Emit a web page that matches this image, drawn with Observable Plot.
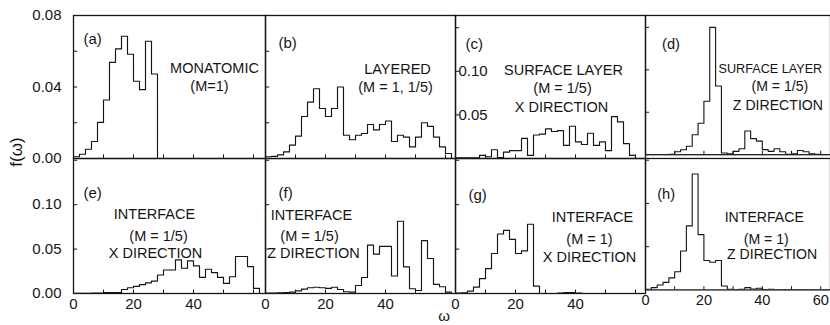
<!DOCTYPE html>
<html><head><meta charset="utf-8">
<script src="https://cdn.jsdelivr.net/npm/d3@7"></script>
<script src="https://cdn.jsdelivr.net/npm/@observablehq/plot@0.6"></script>
<style>
html,body{margin:0;padding:0;background:#fff;overflow:hidden;}
#chart{position:relative;width:830px;height:325px;overflow:hidden;font-family:"Liberation Sans",Arial,sans-serif;color:#111;background:#fff;}
.panel{position:absolute;}
.lbl{position:absolute;white-space:nowrap;line-height:1;}
</style></head><body><div id="chart"></div>
<script>
// histogram bin width (in omega units); values are f(omega) per bin starting at 0
const binWidth = 2;
const fA = [0.001, 0.0024, 0.0052, 0.0095, 0.0202, 0.0327, 0.0538, 0.0613, 0.0684, 0.0583, 0.0432, 0.0385, 0.0656, 0.0473, 0, 0, 0, 0, 0, 0, 0, 0, 0, 0, 0, 0, 0, 0, 0, 0, 0, 0];
const fB = [0.001, 0.0012, 0.002, 0.0037, 0.0075, 0.0125, 0.0235, 0.0315, 0.039, 0.028, 0.0235, 0.028, 0.040, 0.013, 0.0105, 0.013, 0.014, 0.019, 0.016, 0.019, 0.021, 0.0095, 0.013, 0.012, 0.0065, 0.012, 0.020, 0.018, 0.012, 0.0065, 0.0028, 0];
const fC = [0.0007, 0.0007, 0.0007, 0.0007, 0.0035, 0.002, 0.010, 0.001, 0.0073, 0.009, 0.009, 0.023, 0.0035, 0.027, 0.028, 0.034, 0.031, 0.032, 0.015, 0.037, 0.019, 0.016, 0.029, 0.015, 0.019, 0.009, 0.048, 0.042, 0.017, 0.0035, 0, 0];
const fD = [0, 0, 0, 0, 0.0005, 0.0035, 0.0058, 0.010, 0.0235, 0.037, 0.063, 0.150, 0.081, 0.002, 0.001, 0.004, 0.007, 0.028, 0.019, 0.016, 0.006, 0.004, 0.007, 0.0035, 0.0005, 0.001, 0.005, 0.0035, 0.001, 0.0005, 0, 0];
const fE = [0.0003, 0.0003, 0.0003, 0.0005, 0.0005, 0.001, 0.001, 0.001, 0.0045, 0.0065, 0.008, 0.010, 0.012, 0.014, 0.0208, 0.0265, 0.0265, 0.0379, 0.0284, 0.0367, 0.0311, 0.0182, 0.0273, 0.0235, 0.0182, 0.0114, 0.0189, 0.0417, 0.0417, 0.0303, 0.0057, 0];
const fF = [0.0005, 0.0005, 0.0007, 0.001, 0.0015, 0.003, 0.005, 0.0065, 0.007, 0.0065, 0.0057, 0.007, 0.0045, 0.002, 0.0015, 0.009, 0.018, 0.0545, 0.0443, 0.053, 0.053, 0.0197, 0.0814, 0.030, 0.0053, 0.0034, 0.0595, 0.0394, 0.0102, 0.0076, 0.0015, 0];
const fG = [0.0004, 0.0008, 0.0027, 0.0072, 0.0167, 0.028, 0.045, 0.067, 0.071, 0.061, 0.045, 0.048, 0.078, 0.0083, 0, 0, 0, 0.0005, 0.001, 0.001, 0.0005, 0, 0, 0, 0, 0, 0, 0, 0, 0, 0, 0];
const fH = [0.0008, 0.0027, 0.0057, 0.0087, 0.014, 0.021, 0.045, 0.074, 0.134, 0.064, 0.034, 0.032, 0.034, 0.0045, 0.0008, 0, 0.0008, 0.0027, 0.001, 0.002, 0.0004, 0.0008, 0, 0, 0, 0, 0, 0, 0, 0, 0, 0];

const panelIds = ["(a)", "(b)", "(c)", "(d)", "(e)", "(f)", "(g)", "(h)"];
const titleA = ["MONATOMIC", "(M=1)"];
const titleB = ["LAYERED", "(M = 1, 1/5)"];
const titleC = ["SURFACE LAYER", "(M = 1/5)", "X DIRECTION"];
const titleD = ["SURFACE LAYER", "(M = 1/5)", "Z DIRECTION"];
const titleE = ["INTERFACE", "(M = 1/5)", "X DIRECTION"];
const titleF = ["INTERFACE", "(M = 1/5)", "Z DIRECTION"];
const titleG = ["INTERFACE", "(M = 1)", "X DIRECTION"];
const titleH = ["INTERFACE", "(M = 1)", "Z DIRECTION"];

const yLabelsTop = [0, 0.04, 0.08];
const yLabelsBottom = [0, 0.05, 0.10];
const yLabelsInner = [0.05, 0.10];
const yTickMarksTop = [0.02, 0.04, 0.06];
const yTickMarksFine = [0.05, 0.10, 0.15];
const xLabels = [0, 20, 40];
const xLabelsLast = [0, 20, 40, 60];
const xTickMarks = [10, 20, 30, 40, 50, 60];
const yAxisTitle = "f(ω)";
const xAxisTitle = "ω";

// ---- layout ----
const ink = "#151515";
const colLeft = [73, 265, 455, 645], colWidth = [192, 190, 190, 190];
const rowTop = [15, 158], rowHeight = [143, 135];
const pxPerUnit = 3;

const panels = [
  {values: fA, id: panelIds[0], title: titleA, col: 0, row: 0, ymax: 0.08, ticks: yTickMarksTop, yLabels: yLabelsTop, idPos: [10, 24], tPos: [[141, 53], [136, 71]]},
  {values: fB, id: panelIds[1], title: titleB, col: 1, row: 0, ymax: 0.08, ticks: yTickMarksTop, idPos: [13, 28], tPos: [[132, 54], [130, 72]]},
  {values: fC, id: panelIds[2], title: titleC, col: 2, row: 0, ymax: 0.164, ticks: yTickMarksFine, inner: yLabelsInner, idPos: [10, 29], tPos: [[108, 55], [107, 73], [106, 92]]},
  {values: fD, id: panelIds[3], title: titleD, col: 3, row: 0, ymax: 0.164, ticks: yTickMarksFine, idPos: [17, 30], tPos: [[75, 55, "start", 13], [138, 73], [136, 92]]},
  {values: fE, id: panelIds[4], title: titleE, col: 0, row: 1, ymax: 0.152, ticks: yTickMarksFine, yLabels: yLabelsBottom, xLabels: xLabels, idPos: [10, 35], tPos: [[81, 56], [85, 78], [82, 95]]},
  {values: fF, id: panelIds[5], title: titleF, col: 1, row: 1, ymax: 0.152, ticks: yTickMarksFine, xLabels: xLabels, idPos: [13, 35], tPos: [[46, 57], [44, 78], [48, 95]]},
  {values: fG, id: panelIds[6], title: titleG, col: 2, row: 1, ymax: 0.152, ticks: yTickMarksFine, xLabels: xLabels, idPos: [13, 37], tPos: [[137, 59], [134, 81], [134, 99]]},
  {values: fH, id: panelIds[7], title: titleH, col: 3, row: 1, ymax: 0.152, ticks: yTickMarksFine, xLabels: xLabelsLast, idPos: [12, 37], tPos: [[122, 61], [124, 83], [130, 99]]}
];

const chart = document.getElementById("chart");

for (const p of panels) {
  const w = colWidth[p.col], h = rowHeight[p.row];
  const pts = p.values.map((v, i) => ({w: i * binWidth, f: v}));
  pts.push({w: p.values.length * binWidth, f: p.values[p.values.length - 1]});
  const marks = [
    Plot.line(pts, {x: "w", y: "f", curve: "step-after", stroke: ink, strokeWidth: 1.15, clip: true}),
    Plot.ruleY(p.ticks.filter(t => t < p.ymax), {y: d => d, x1: 0, x2: 1.4, stroke: ink, strokeWidth: 1}),
    Plot.ruleX(xTickMarks.filter(t => t < w / pxPerUnit), {x: d => d, y1: 0, y2: p.ymax * 0.025, stroke: ink, strokeWidth: 1}),
    Plot.frame({stroke: ink, strokeWidth: 1.3}),
    Plot.text([p.id], {frameAnchor: "top-left", dx: p.idPos[0], dy: p.idPos[1], text: d => d, textAnchor: "start", lineAnchor: "middle"})
  ];
  p.title.forEach((t, k) => {
    const pos = p.tPos[k];
    marks.push(Plot.text([t], {frameAnchor: "top-left", dx: pos[0], dy: pos[1], text: d => d, textAnchor: pos[2] || "middle", lineAnchor: "middle", fontSize: pos[3] || 14.5}));
  });
  if (p.yLabels) marks.push(Plot.axisY(p.yLabels, {anchor: "left", tickSize: 0, tickPadding: 12, label: null, tickFormat: d3.format(".2f")}));
  if (p.inner) marks.push(Plot.text(p.inner, {y: d => d, frameAnchor: "left", dx: 3, text: d => d3.format(".2f")(d), textAnchor: "start", lineAnchor: "middle"}));
  if (p.xLabels) marks.push(Plot.axisX(p.xLabels, {anchor: "bottom", tickSize: 0, tickPadding: 5, label: null}));
  const svg = Plot.plot({
    width: w, height: h, margin: 0,
    x: {domain: [0, w / pxPerUnit], axis: null, label: null},
    y: {domain: [0, p.ymax], axis: null, label: null},
    style: {overflow: "visible", background: "transparent", fontFamily: "'Liberation Sans', Arial, sans-serif", fontSize: "15px", color: ink},
    marks
  });
  const div = document.createElement("div");
  div.className = "panel";
  div.style.left = colLeft[p.col] + "px";
  div.style.top = rowTop[p.row] + "px";
  div.appendChild(svg);
  chart.appendChild(div);
}

const yt = document.createElement("div");
yt.className = "lbl";
yt.textContent = yAxisTitle;
yt.style.cssText += "left:16px;top:152px;font-size:17px;transform:translate(-50%,-50%) rotate(-90deg);";
chart.appendChild(yt);

const xt = document.createElement("div");
xt.className = "lbl";
xt.textContent = xAxisTitle;
xt.style.cssText += "left:444px;top:308px;font-size:15px;transform:translateX(-50%);";
chart.appendChild(xt);
</script>
</body></html>
